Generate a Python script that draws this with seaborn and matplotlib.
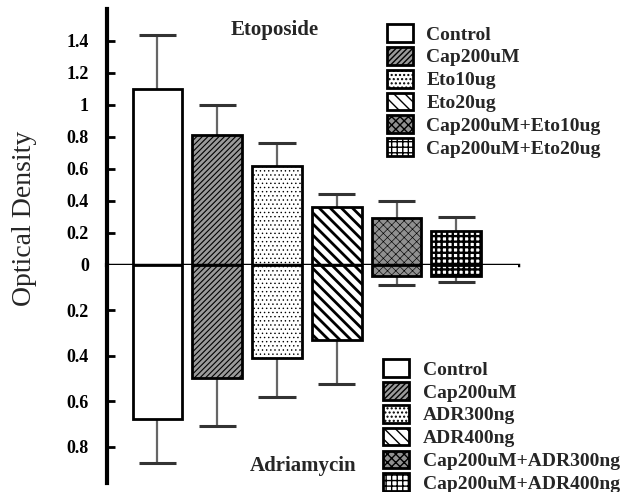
import matplotlib
matplotlib.use("Agg")
import matplotlib.pyplot as plt
import matplotlib.patches as mpatches
import seaborn as sns

# bar groups (shared positions, separate legend labels)
groups = ["g1", "g2", "g3", "g4", "g5", "g6"]
eto_labels = ["Control", "Cap200uM", "Eto10ug", "Eto20ug",
              "Cap200uM+Eto10ug", "Cap200uM+Eto20ug"]
adr_labels = ["Control", "Cap200uM", "ADR300ng", "ADR400ng",
              "Cap200uM+ADR300ng", "Cap200uM+ADR400ng"]

# Etoposide (upper panel) means and upper error
eto_mean = [1.10, 0.81, 0.62, 0.36, 0.29, 0.21]
eto_err = [0.34, 0.19, 0.14, 0.08, 0.11, 0.09]

# Adriamycin (lower panel, drawn downward) means and lower error
adr_mean = [0.68, 0.50, 0.41, 0.33, 0.05, 0.05]
adr_err = [0.19, 0.21, 0.17, 0.195, 0.04, 0.025]

top_ticks = [0, 0.2, 0.4, 0.6, 0.8, 1.0, 1.2, 1.4]
top_ticklabels = ["0", "0.2", "0.4", "0.6", "0.8", "1", "1.2", "1.4"]
bot_ticks = [0.2, 0.4, 0.6, 0.8]
bot_ticklabels = ["0.2", "0.4", "0.6", "0.8"]

# fill / hatch style for each bar group
styles = [
    dict(facecolor="white", hatch=None, hlw=1.0),
    dict(facecolor="#9a9a9a", hatch="//////", hlw=0.8),
    dict(facecolor="white", hatch="....", hlw=0.5),
    dict(facecolor="white", hatch="\\\\\\", hlw=2.0),
    dict(facecolor="#909090", hatch="xxxx", hlw=0.45),
    dict(facecolor="white", hatch="+++", hlw=1.7),
]

sns.set_style("white")
plt.rcParams["font.family"] = ["Liberation Serif", "DejaVu Serif"]

fig = plt.figure(figsize=(6.39, 4.92), dpi=100)
ax_top = fig.add_axes([0.1674, 0.462, 0.643, 0.5197])
ax_bot = fig.add_axes([0.1674, 0.0183, 0.643, 0.4437])

BAR_W = 0.83
CAP = 0.31


def style_bars(ax):
    for p, st in zip(ax.patches, styles):
        p.set_facecolor(st["facecolor"])
        p.set_edgecolor("black")
        p.set_linewidth(2.0)
        if st["hatch"]:
            p.set_hatch(st["hatch"])
            if hasattr(p, "set_hatch_linewidth"):
                p.set_hatch_linewidth(st["hlw"])


def draw_err(ax, mean, err):
    xs = range(len(mean))
    ends = [m + e for m, e in zip(mean, err)]
    ax.vlines(xs, mean, ends, color="#666666", linewidth=1.6, zorder=0.5)
    ax.hlines(ends, [x - CAP for x in xs], [x + CAP for x in xs],
              color="#333333", linewidth=2.2, zorder=0.5)


sns.barplot(x=groups, y=eto_mean, ax=ax_top, color="white", width=BAR_W,
            saturation=1, errorbar=None)
style_bars(ax_top)
draw_err(ax_top, eto_mean, eto_err)

sns.barplot(x=groups, y=adr_mean, ax=ax_bot, color="white", width=BAR_W,
            saturation=1, errorbar=None)
style_bars(ax_bot)
draw_err(ax_bot, adr_mean, adr_err)

for ax in (ax_top, ax_bot):
    ax.set_xlim(-0.845, 6.03)
    ax.set_xticks([])
    ax.set_xlabel("")
    ax.set_ylabel("")
    for s in ("top", "right"):
        ax.spines[s].set_visible(False)
    ax.spines["left"].set_linewidth(3)
    ax.spines["left"].set_color("black")
    ax.tick_params(axis="y", direction="in", length=6, width=2, pad=13,
                   labelsize=13, colors="black", left=True, right=False)
    ax.tick_params(axis="x", bottom=False, top=False)

ax_top.set_ylim(0, 1.6)
ax_top.set_yticks(top_ticks)
ax_top.set_yticklabels(top_ticklabels, fontweight="bold")
ax_top.spines["bottom"].set_linewidth(2.5)
ax_top.spines["bottom"].set_color("black")

ax_bot.set_ylim(0.96, 0)
ax_bot.set_yticks(bot_ticks)
ax_bot.set_yticklabels(bot_ticklabels, fontweight="bold")
ax_bot.spines["bottom"].set_visible(False)

fig.text(0.039, 0.557, "Optical Density", rotation=90, ha="center",
         va="center", fontsize=20)
fig.text(0.43, 0.939, "Etoposide", ha="center", va="center",
         fontsize=15, fontweight="bold")
fig.text(0.474, 0.053, "Adriamycin", ha="center", va="center",
         fontsize=15, fontweight="bold")


def legend_handles():
    hs = []
    for st in styles:
        h = mpatches.Patch(facecolor=st["facecolor"], edgecolor="black",
                           hatch=st["hatch"], linewidth=2.0)
        if st["hatch"] and hasattr(h, "set_hatch_linewidth"):
            h.set_hatch_linewidth(st["hlw"])
        hs.append(h)
    return hs


leg_kw = dict(loc="upper left", frameon=False, borderpad=0, borderaxespad=0,
              handlelength=1.35, handleheight=1.03, handletextpad=0.7,
              labelspacing=0.17, prop=dict(family="Liberation Serif",
                                           weight="bold", size=14))
fig.legend(legend_handles(), eto_labels, bbox_to_anchor=(0.605, 0.951), **leg_kw)
fig.legend(legend_handles(), adr_labels, bbox_to_anchor=(0.599, 0.270), **leg_kw)

fig.savefig("out.png", dpi=100)
